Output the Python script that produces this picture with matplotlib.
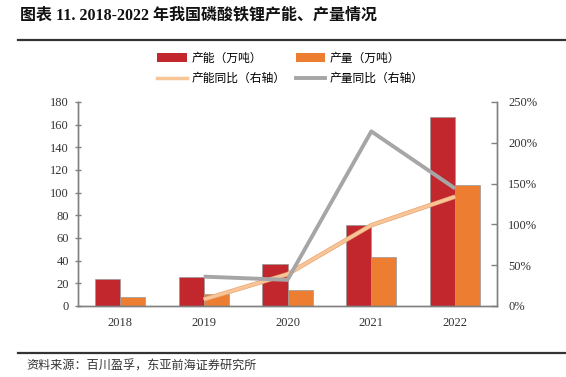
import matplotlib
matplotlib.use("Agg")
import matplotlib.pyplot as plt
import numpy as np
from matplotlib.lines import Line2D
from matplotlib.patches import Patch

years = ["2018", "2019", "2020", "2021", "2022"]
capacity = [24, 26, 37, 71.5, 166.5]
production = [8, 10.3, 14, 43.5, 106.5]
cap_yoy_years = ["2019", "2020", "2021", "2022"]
cap_yoy = [8, 39, 99, 134]
prod_yoy = [36, 32, 214, 144]
left_ticks = [0, 20, 40, 60, 80, 100, 120, 140, 160, 180]
right_ticks = [0, 50, 100, 150, 200, 250]

title = "图表 11. 2018-2022 年我国磷酸铁锂产能、产量情况"
source = "资料来源：百川盈孚，东亚前海证券研究所"
leg_labels = ["产能（万吨）", "产量（万吨）", "产能同比（右轴）", "产量同比（右轴）"]

CJK = ["Noto Sans CJK SC", "DejaVu Sans"]
NUM = ["Liberation Serif", "Noto Sans CJK SC"]

red = "#C1272D"
orange = "#ED7D31"
peach = "#F8C597"
gray = "#A6A6A6"

fig = plt.figure(figsize=(5.66, 3.77), dpi=100)
ax = fig.add_axes([78/566, 1-306/377, (497-78)/566, (306-102)/377])
ax2 = ax.twinx()

x = np.arange(len(years))
w = 0.3
ax.bar(x - w/2, capacity, w, color=red, edgecolor="#999999", linewidth=0.5, zorder=2)
ax.bar(x + w/2, production, w, color=orange, edgecolor="#999999", linewidth=0.5, zorder=2)

xl = [years.index(y) for y in cap_yoy_years]
ax2.plot(xl, cap_yoy, color="#E8A575", lw=3.2, solid_capstyle="butt", zorder=3)
ax2.plot(xl, cap_yoy, color=peach, lw=2.2, solid_capstyle="butt", zorder=3)
ax2.plot(xl, prod_yoy, color=gray, lw=2.8, solid_capstyle="butt", zorder=3)

ax.set_xlim(-0.5, len(years) - 0.5)
ax.set_ylim(0, 180)
ax2.set_ylim(0, 250)
ax.set_xticks(x)
ax.set_xticklabels(years, fontfamily=NUM, fontsize=9)
ax.set_yticks(left_ticks)
ax.set_yticklabels([str(v) for v in left_ticks], fontfamily=NUM, fontsize=9)
ax2.set_yticks(right_ticks)
ax2.set_yticklabels([f"{v}%" for v in right_ticks], fontfamily=NUM, fontsize=9)

for a in (ax, ax2):
    a.spines["top"].set_visible(False)
    for s in ["left", "right", "bottom"]:
        a.spines[s].set_color("#808080")
        a.spines[s].set_linewidth(1.0)
ax.tick_params(axis="x", length=0, pad=8, colors="#333333")
ax.tick_params(axis="y", direction="inout", length=5, width=1, color="#808080", pad=4, labelcolor="#333333")
ax2.tick_params(axis="y", direction="in", length=4, width=1, color="#808080", pad=8, labelcolor="#333333")
ax.set_zorder(ax2.get_zorder() - 1)
ax.patch.set_visible(True)
ax2.patch.set_visible(False)

h_cap = Patch(facecolor=red, edgecolor="none")
h_prod = Patch(facecolor=orange, edgecolor="none")
h_capy = Line2D([0], [0], color=peach, lw=2.5)
h_prody = Line2D([0], [0], color=gray, lw=2.8)
# legend fills column-wise; reorder so rows read as in the reference
handles = [h_cap, h_capy, h_prod, h_prody]
labels = [leg_labels[0], leg_labels[2], leg_labels[1], leg_labels[3]]
fig.legend(handles, labels, loc="upper left", bbox_to_anchor=(157/566, 1-52/377),
           ncol=2, frameon=False, prop={"family": CJK, "size": 8.5},
           borderpad=0, borderaxespad=0,
           handlelength=2.5, handleheight=0.8, columnspacing=0.9, handletextpad=0.4,
           labelspacing=0.6)

fig.text(20/566, 1-15/377, title, fontsize=11.5, fontweight="bold",
         fontfamily=NUM, va="center", ha="left", color="#111111")
fig.add_artist(Line2D([18/566, 1], [1-40/377]*2, color="#333333", lw=1.6))
fig.add_artist(Line2D([18/566, 1], [1-353/377]*2, color="#333333", lw=1.6))
fig.text(26/566, 1-366/377, source, fontsize=8.7, fontfamily=CJK, va="center", ha="left", color="#333333")

fig.savefig("out.png", dpi=100)
